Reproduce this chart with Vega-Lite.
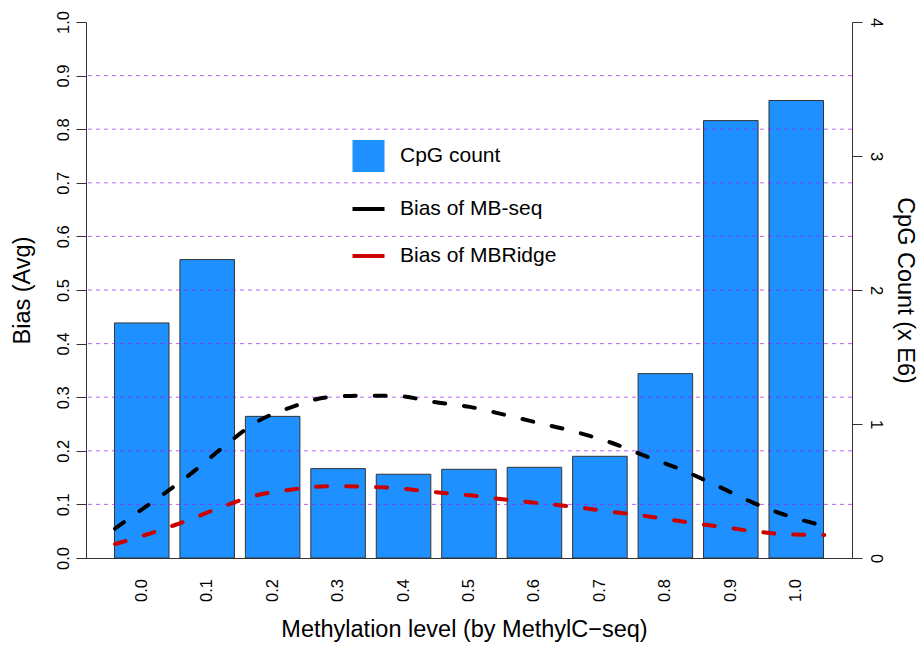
{
  "$schema": "https://vega.github.io/schema/vega-lite/v6.json",
  "width": 766,
  "height": 536,
  "autosize": {"type": "none"},
  "padding": {"left": 86, "top": 22, "right": 67, "bottom": 88},
  "background": "white",
  "config": {
    "font": "Liberation Sans",
    "view": {"stroke": null},
    "axis": {
      "labelFont": "Liberation Sans",
      "titleFont": "Liberation Sans",
      "labelColor": "#000",
      "titleColor": "#000",
      "titleFontWeight": "normal",
      "domainColor": "#333",
      "tickColor": "#333",
      "domainWidth": 1,
      "tickWidth": 1,
      "grid": false
    }
  },
  "datasets": {
    "cpg": [
      {"level": "0.0", "count": 1.754},
      {"level": "0.1", "count": 2.227},
      {"level": "0.2", "count": 1.057},
      {"level": "0.3", "count": 0.667},
      {"level": "0.4", "count": 0.625},
      {"level": "0.5", "count": 0.662},
      {"level": "0.6", "count": 0.677},
      {"level": "0.7", "count": 0.759},
      {"level": "0.8", "count": 1.376},
      {"level": "0.9", "count": 3.264},
      {"level": "1.0", "count": 3.414}
    ],
    "gridlines": [
      {"y": 0.1}, {"y": 0.2}, {"y": 0.3}, {"y": 0.4}, {"y": 0.5},
      {"y": 0.6}, {"y": 0.7}, {"y": 0.8}, {"y": 0.9}
    ],
    "bias": [
      {"t": 0.00, "series": "Bias of MB-seq", "bias": 0.055},
      {"t": 0.05, "series": "Bias of MB-seq", "bias": 0.102},
      {"t": 0.10, "series": "Bias of MB-seq", "bias": 0.150},
      {"t": 0.15, "series": "Bias of MB-seq", "bias": 0.204},
      {"t": 0.20, "series": "Bias of MB-seq", "bias": 0.254},
      {"t": 0.25, "series": "Bias of MB-seq", "bias": 0.282},
      {"t": 0.30, "series": "Bias of MB-seq", "bias": 0.300},
      {"t": 0.35, "series": "Bias of MB-seq", "bias": 0.303},
      {"t": 0.40, "series": "Bias of MB-seq", "bias": 0.302},
      {"t": 0.45, "series": "Bias of MB-seq", "bias": 0.291},
      {"t": 0.50, "series": "Bias of MB-seq", "bias": 0.282},
      {"t": 0.55, "series": "Bias of MB-seq", "bias": 0.267},
      {"t": 0.60, "series": "Bias of MB-seq", "bias": 0.251},
      {"t": 0.65, "series": "Bias of MB-seq", "bias": 0.235},
      {"t": 0.70, "series": "Bias of MB-seq", "bias": 0.215},
      {"t": 0.75, "series": "Bias of MB-seq", "bias": 0.189},
      {"t": 0.80, "series": "Bias of MB-seq", "bias": 0.164},
      {"t": 0.85, "series": "Bias of MB-seq", "bias": 0.134},
      {"t": 0.90, "series": "Bias of MB-seq", "bias": 0.103},
      {"t": 0.95, "series": "Bias of MB-seq", "bias": 0.078},
      {"t": 1.00, "series": "Bias of MB-seq", "bias": 0.060},
      {"t": 0.00, "series": "Bias of MBRidge", "bias": 0.026},
      {"t": 0.05, "series": "Bias of MBRidge", "bias": 0.046},
      {"t": 0.10, "series": "Bias of MBRidge", "bias": 0.069},
      {"t": 0.15, "series": "Bias of MBRidge", "bias": 0.095},
      {"t": 0.20, "series": "Bias of MBRidge", "bias": 0.117},
      {"t": 0.25, "series": "Bias of MBRidge", "bias": 0.128},
      {"t": 0.30, "series": "Bias of MBRidge", "bias": 0.134},
      {"t": 0.35, "series": "Bias of MBRidge", "bias": 0.133},
      {"t": 0.40, "series": "Bias of MBRidge", "bias": 0.130},
      {"t": 0.45, "series": "Bias of MBRidge", "bias": 0.123},
      {"t": 0.50, "series": "Bias of MBRidge", "bias": 0.117},
      {"t": 0.55, "series": "Bias of MBRidge", "bias": 0.109},
      {"t": 0.60, "series": "Bias of MBRidge", "bias": 0.102},
      {"t": 0.65, "series": "Bias of MBRidge", "bias": 0.095},
      {"t": 0.70, "series": "Bias of MBRidge", "bias": 0.086},
      {"t": 0.75, "series": "Bias of MBRidge", "bias": 0.078},
      {"t": 0.80, "series": "Bias of MBRidge", "bias": 0.068},
      {"t": 0.85, "series": "Bias of MBRidge", "bias": 0.059},
      {"t": 0.90, "series": "Bias of MBRidge", "bias": 0.050},
      {"t": 0.95, "series": "Bias of MBRidge", "bias": 0.044},
      {"t": 1.00, "series": "Bias of MBRidge", "bias": 0.043}
    ]
  },
  "layer": [
    {
      "data": {"name": "cpg"},
      "mark": {"type": "bar", "stroke": "#333", "strokeWidth": 1},
      "encoding": {
        "x": {
          "field": "level",
          "type": "ordinal",
          "sort": null,
          "scale": {"paddingInner": 0.1667, "paddingOuter": 0.435},
          "axis": {
            "orient": "bottom",
            "title": "Methylation level (by MethylC−seq)",
            "labelAngle": -90,
            "labelFontSize": 16.5,
            "ticks": false,
            "tickSize": 0,
            "labelPadding": 20.6,
            "titleFontSize": 23.5,
            "titleX": 378,
            "titleY": 78.3,
            "titleAlign": "center",
            "titleBaseline": "alphabetic"
          }
        },
        "y": {
          "field": "count",
          "type": "quantitative",
          "scale": {"domain": [0, 4], "nice": false},
          "axis": {
            "orient": "right",
            "values": [0, 1, 2, 3, 4],
            "title": "CpG Count (x E6)",
            "labelAngle": 90,
            "labelAlign": "center",
            "labelBaseline": "alphabetic",
            "labelPadding": 8,
            "tickSize": 10,
            "labelFontSize": 16.5,
            "titleFontSize": 23.5,
            "titleAngle": 90,
            "titleX": 45,
            "titleY": 268,
            "titleAlign": "center",
            "titleBaseline": "alphabetic"
          }
        },
        "color": {"datum": "CpG count", "type": "nominal"}
      }
    },
    {
      "data": {"name": "gridlines"},
      "mark": {"type": "rule", "stroke": "#A020F0", "strokeWidth": 1, "strokeDash": [4, 4], "opacity": 0.7},
      "encoding": {
        "y": {"field": "y", "type": "quantitative", "scale": {"domain": [0, 1], "nice": false}, "axis": null}
      }
    },
    {
      "data": {"name": "bias"},
      "mark": {"type": "line", "strokeWidth": 4, "strokeDash": [11, 19], "strokeCap": "round", "interpolate": "monotone"},
      "encoding": {
        "x": {
          "field": "t",
          "type": "quantitative",
          "scale": {"domain": [0, 1], "range": [29, 738.3], "nice": false, "zero": false},
          "axis": null
        },
        "y": {
          "field": "bias",
          "type": "quantitative",
          "scale": {"domain": [0, 1], "nice": false},
          "axis": {
            "orient": "left",
            "values": [0, 0.1, 0.2, 0.3, 0.4, 0.5, 0.6, 0.7, 0.8, 0.9, 1],
            "format": ".1f",
            "title": "Bias (Avg)",
            "labelAngle": -90,
            "labelAlign": "center",
            "labelBaseline": "alphabetic",
            "labelPadding": 8,
            "tickSize": 10,
            "labelFontSize": 16.5,
            "titleFontSize": 23.5,
            "titleAngle": -90,
            "titleX": -57,
            "titleY": 268,
            "titleAlign": "center",
            "titleBaseline": "alphabetic"
          }
        },
        "color": {
          "field": "series",
          "type": "nominal",
          "sort": null,
          "scale": {
            "domain": ["CpG count", "Bias of MB-seq", "Bias of MBRidge"],
            "range": ["#1E90FF", "#000000", "#CD0000"]
          },
          "legend": {
            "title": null,
            "orient": "none",
            "legendX": 272,
            "legendY": 123.5,
            "padding": 0,
            "symbolSize": 1024,
            "symbolStrokeWidth": 4,
            "symbolDash": [1, 0],
            "labelFont": "Liberation Sans",
            "labelFontSize": 21,
            "labelColor": "#000",
            "labelOffset": 21,
            "rowPadding": 25,
            "encode": {
              "symbols": {
                "update": {
                  "shape": {"signal": "datum.value === 'CpG count' ? 'square' : 'stroke'"},
                  "fill": {"signal": "datum.value === 'CpG count' ? '#1E90FF' : 'transparent'"},
                  "stroke": {"signal": "datum.value === 'Bias of MB-seq' ? '#000000' : (datum.value === 'Bias of MBRidge' ? '#CD0000' : 'transparent')"},
                  "strokeWidth": {"signal": "datum.value === 'CpG count' ? 0 : 4"},
                  "opacity": {"value": 1}
                }
              }
            }
          }
        }
      }
    }
  ],
  "resolve": {"scale": {"x": "independent", "y": "independent"}}
}
